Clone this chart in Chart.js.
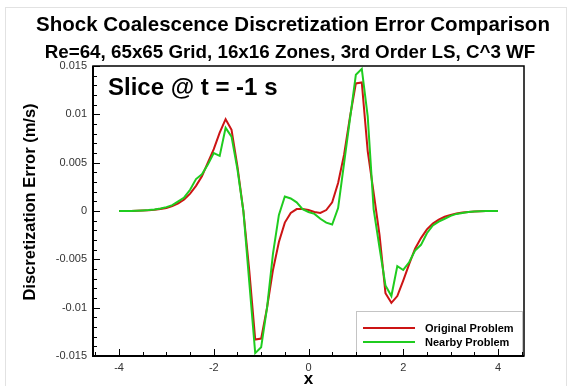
<!DOCTYPE html>
<html>
<head>
<meta charset="utf-8">
<script src="https://cdn.jsdelivr.net/npm/chart.js@4.4.1/dist/chart.umd.min.js"></script>
<style>
  html, body { margin: 0; padding: 0; background: #fff; }
  #wrap { position: relative; width: 577px; height: 386px; }
  canvas { display: block; }
</style>
</head>
<body>
<div id="wrap"><canvas id="errChart" width="577" height="386"></canvas></div>
<script>
// Grid locations along the slice (65 points, -4 .. 4)
const xs = [
  -4.000, -3.875, -3.750, -3.625, -3.500, -3.375, -3.250, -3.125,
  -3.000, -2.875, -2.750, -2.625, -2.500, -2.375, -2.250, -2.125,
  -2.000, -1.875, -1.750, -1.625, -1.500, -1.375, -1.250, -1.125,
  -1.000, -0.875, -0.750, -0.625, -0.500, -0.375, -0.250, -0.125,
   0.000,  0.125,  0.250,  0.375,  0.500,  0.625,  0.750,  0.875,
   1.000,  1.125,  1.250,  1.375,  1.500,  1.625,  1.750,  1.875,
   2.000,  2.125,  2.250,  2.375,  2.500,  2.625,  2.750,  2.875,
   3.000,  3.125,  3.250,  3.375,  3.500,  3.625,  3.750,  3.875,
   4.000
];

// Discretization error, original problem
const originalErr = [
  0.00000, 0.00000, 0.00001, 0.00002, 0.00004, 0.00007, 0.00012, 0.00020,
  0.00032, 0.00050, 0.00078, 0.00118, 0.00180, 0.00260, 0.00360, 0.00500,
  0.00640, 0.00810, 0.00950, 0.00840, 0.00460, 0.00000, -0.00620, -0.01330,
  -0.01320, -0.01000, -0.00610, -0.00320, -0.00120, -0.00020, 0.00020, 0.00020,
  0.00010, -0.00010, -0.00020, 0.00010, 0.00090, 0.00290, 0.00580, 0.00970,
  0.01320, 0.01330, 0.00620, 0.00190, -0.00250, -0.00850, -0.00950, -0.00880,
  -0.00720, -0.00550, -0.00390, -0.00280, -0.00190, -0.00130, -0.00090, -0.00060,
  -0.00040, -0.00025, -0.00015, -0.00010, -0.00005, -0.00003, -0.00001, 0.00000,
  0.00000
];

// Discretization error, nearby problem
const nearbyErr = [
  0.00000, 0.00000, 0.00001, 0.00003, 0.00006, 0.00010, 0.00016, 0.00025,
  0.00040, 0.00060, 0.00100, 0.00140, 0.00220, 0.00330, 0.00380, 0.00480,
  0.00600, 0.00570, 0.00860, 0.00770, 0.00430, 0.00000, -0.00740, -0.01470,
  -0.01410, -0.01000, -0.00440, -0.00040, 0.00150, 0.00130, 0.00090, 0.00020,
  -0.00010, -0.00030, -0.00080, -0.00120, -0.00140, 0.00030, 0.00490, 0.00950,
  0.01410, 0.01470, 0.00980, 0.00020, -0.00380, -0.00770, -0.00880, -0.00570,
  -0.00610, -0.00530, -0.00410, -0.00350, -0.00230, -0.00150, -0.00110, -0.00080,
  -0.00050, -0.00030, -0.00020, -0.00010, -0.00005, -0.00002, -0.00001, 0.00000,
  0.00000
];

const xTicks = [-4, -2, 0, 2, 4];
const xTickLabels = ['-4', '-2', '0', '2', '4'];
const yTicks = [-0.015, -0.01, -0.005, 0, 0.005, 0.01, 0.015];
const yTickLabels = ['-0.015', '-0.01', '-0.005', '0', '0.005', '0.01', '0.015'];

const seriesNames = ['Original Problem', 'Nearby Problem'];
const seriesColors = ['#cc1414', '#1fcc1f'];

const FONT = '"Liberation Sans", Arial, Helvetica, sans-serif';

function toPoints(values) {
  return xs.map((x, i) => ({ x: x, y: values[i] }));
}

// Frame, inward ticks, legend box and the text around the plot
const framePlugin = {
  id: 'frame',
  beforeDraw(chart) {
    const ctx = chart.ctx;
    ctx.save();
    ctx.fillStyle = '#fff';
    ctx.fillRect(0, 0, chart.width, chart.height);
    // faint page border
    ctx.strokeStyle = '#e2e2e2';
    ctx.lineWidth = 1;
    ctx.strokeRect(5.5, 7.5, 561, 400);
    ctx.restore();
  },
  afterDatasetsDraw(chart) {
    const ctx = chart.ctx;
    const area = chart.chartArea;
    const xs_ = chart.scales.x;
    const ys_ = chart.scales.y;
    ctx.save();

    // legend box
    const lx = 356, ly = 311, lw = 166, lh = area.bottom - 311;
    ctx.fillStyle = '#fff';
    ctx.fillRect(lx, ly, lw, lh);
    ctx.strokeStyle = '#c4c4c4';
    ctx.lineWidth = 1;
    ctx.strokeRect(lx + 0.5, ly + 0.5, lw, lh);
    ctx.font = 'bold 11px ' + FONT;
    ctx.textBaseline = 'middle';
    ctx.textAlign = 'left';
    seriesNames.forEach((name, i) => {
      const yy = 328 + i * 14;
      ctx.strokeStyle = seriesColors[i];
      ctx.lineWidth = 2;
      ctx.beginPath();
      ctx.moveTo(363, yy);
      ctx.lineTo(415, yy);
      ctx.stroke();
      ctx.fillStyle = '#000';
      ctx.fillText(name, 425, yy + 0.5);
    });

    // minor / major ticks pointing inward
    ctx.strokeStyle = '#000';
    ctx.lineWidth = 1;
    ctx.beginPath();
    for (let k = -15; k <= 15; k++) {
      const py = Math.round(ys_.getPixelForValue(k / 1000)) + 0.5;
      const len = (k % 5 === 0) ? 7 : 4;
      ctx.moveTo(area.left, py);
      ctx.lineTo(area.left + len, py);
    }
    for (let k = -9; k <= 9; k++) {
      const v = k / 2;
      if (v < xs_.min || v > xs_.max) continue;
      const px = Math.round(xs_.getPixelForValue(v)) + 0.5;
      const len = (k % 4 === 0) ? 7 : 4;
      ctx.moveTo(px, area.bottom);
      ctx.lineTo(px, area.bottom - len);
    }
    ctx.stroke();

    // plot frame
    ctx.lineWidth = 1.5;
    ctx.strokeRect(area.left, area.top, area.right - area.left, area.bottom - area.top);
    ctx.lineWidth = 2;
    ctx.beginPath();
    ctx.moveTo(area.left, area.top);
    ctx.lineTo(area.left, area.bottom);
    ctx.lineTo(area.right, area.bottom);
    ctx.stroke();

    // slice label
    ctx.fillStyle = '#000';
    ctx.font = 'bold 24px ' + FONT;
    ctx.textAlign = 'left';
    ctx.textBaseline = 'alphabetic';
    ctx.fillText('Slice @ t = -1 s', 108, 95);
    ctx.restore();
  },
  afterDraw(chart) {
    const ctx = chart.ctx;
    const area = chart.chartArea;
    ctx.save();
    ctx.fillStyle = '#000';
    ctx.textAlign = 'center';
    ctx.textBaseline = 'alphabetic';
    ctx.font = 'bold 20.5px ' + FONT;
    ctx.fillText('Shock Coalescence Discretization Error Comparison', 293, 31);
    ctx.font = 'bold 18.8px ' + FONT;
    ctx.fillText('Re=64, 65x65 Grid, 16x16 Zones, 3rd Order LS, C^3 WF', 290, 58);

    // axis titles
    ctx.font = 'bold 17px ' + FONT;
    ctx.textBaseline = 'middle';
    ctx.fillText('x', (area.left + area.right) / 2, 379);
    ctx.translate(30, 202);
    ctx.rotate(-Math.PI / 2);
    ctx.font = 'bold 16.5px ' + FONT;
    ctx.fillText('Discretization Error (m/s)', 0, 0);
    ctx.restore();
  }
};

new Chart(document.getElementById('errChart'), {
  type: 'line',
  data: {
    datasets: [
      {
        label: seriesNames[0],
        data: toPoints(originalErr),
        borderColor: seriesColors[0],
        borderWidth: 2,
        pointRadius: 0,
        tension: 0,
        order: 1
      },
      {
        label: seriesNames[1],
        data: toPoints(nearbyErr),
        borderColor: seriesColors[1],
        borderWidth: 2,
        pointRadius: 0,
        tension: 0,
        order: 0
      }
    ]
  },
  options: {
    responsive: false,
    animation: false,
    layout: { padding: { left: 0, right: 53, top: 66, bottom: 0 } },
    plugins: {
      legend: { display: false },
      tooltip: { enabled: false },
      title: { display: false }
    },
    scales: {
      x: {
        type: 'linear',
        min: -4.55,
        max: 4.55,
        grid: { display: false, drawTicks: false },
        border: { display: false },
        afterBuildTicks: (scale) => { scale.ticks = xTicks.map(v => ({ value: v })); },
        afterFit: (scale) => { scale.height = 30; },
        ticks: {
          padding: 5,
          color: '#333',
          font: { family: FONT, size: 11 },
          maxRotation: 0,
          callback: (value) => xTickLabels[xTicks.indexOf(value)]
        }
      },
      y: {
        type: 'linear',
        min: -0.015,
        max: 0.015,
        grid: { display: false, drawTicks: false },
        border: { display: false },
        afterBuildTicks: (scale) => { scale.ticks = yTicks.map(v => ({ value: v })); },
        afterFit: (scale) => { scale.width = 93; },
        ticks: {
          padding: 6,
          color: '#333',
          font: { family: FONT, size: 11 },
          callback: (value) => {
            const i = yTicks.findIndex(t => Math.abs(t - value) < 1e-9);
            return i >= 0 ? yTickLabels[i] : '';
          }
        }
      }
    }
  },
  plugins: [framePlugin]
});
</script>
</body>
</html>
